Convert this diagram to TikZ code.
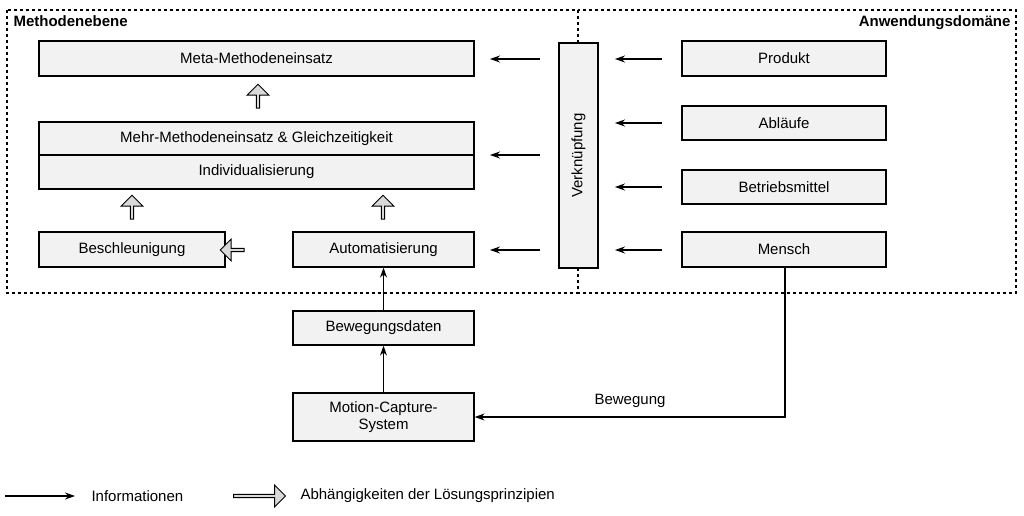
\documentclass[tikz,border=0pt]{standalone}
\usepackage{fontspec}
\setmainfont{Liberation Sans}
\usetikzlibrary{shapes.arrows,arrows.meta}
\begin{document}
\begin{tikzpicture}[x=1pt,y=-1pt,
 box/.style={draw,fill=gray!10,line width=1.2pt,font=\fontsize{15}{18}\selectfont,inner sep=0pt},
 info/.style={-{Stealth[length=10pt,width=7pt]},line width=1.3pt},
 dep/.style={single arrow,draw,fill=gray!30,line width=1pt,minimum height=24pt,minimum width=22pt,single arrow head extend=3pt,inner sep=0pt,single arrow tip angle=90}]
\useasboundingbox (0,0) rectangle (1024,516);
\draw[dashed,line width=1.2pt] (7,10) rectangle (578,293);
\draw[dashed,line width=1.2pt] (578,10) rectangle (1016,293);
\node[anchor=north west,font=\bfseries\fontsize{15}{18}\selectfont] (t1) at (10,12) {Methodenebene};
\node[anchor=north east,font=\bfseries\fontsize{15}{18}\selectfont] (t2) at (1014,12) {Anwendungsdomäne};
\node[box,minimum width=435pt,minimum height=35pt] (meta) at (256.5,58.5) {Meta-Methodeneinsatz};
\node[box,minimum width=435pt,minimum height=33pt] (mehr) at (256.5,138.5) {Mehr-Methodeneinsatz \& Gleichzeitigkeit};
\node[box,minimum width=435pt,minimum height=34pt] (ind) at (256.5,172) {Individualisierung};
\node[box,minimum width=186pt,minimum height=35pt] (besch) at (132,249.5) {Beschleunigung};
\node[box,minimum width=181pt,minimum height=35pt] (auto) at (383.5,249.5) {Automatisierung};
\node[box,minimum width=39pt,minimum height=225pt] (verk) at (578.5,155.5) {\rotatebox{90}{Verknüpfung}};
\node[box,minimum width=204pt,minimum height=35pt] (prod) at (784,58.5) {Produkt};
\node[box,minimum width=204pt,minimum height=34pt] (abl) at (784,123) {Abläufe};
\node[box,minimum width=204pt,minimum height=34pt] (betr) at (784,187) {Betriebsmittel};
\node[box,minimum width=204pt,minimum height=35pt] (mensch) at (784,249.5) {Mensch};
\node[box,minimum width=181pt,minimum height=34pt] (bew) at (383.5,328) {Bewegungsdaten};
\node[box,minimum width=181pt,minimum height=48pt,align=center,font=\fontsize{15}{17}\selectfont] (mocap) at (383.5,417) {Motion-Capture-\\System};
\coordinate (v1) at (540,59); \coordinate (v1e) at (490,59);
\coordinate (v2) at (540,155); \coordinate (v2e) at (490,155);
\coordinate (v3) at (540,250); \coordinate (v3e) at (490,250);
\draw[info] (v1) -- (v1e); \draw[info] (v2) -- (v2e); \draw[info] (v3) -- (v3e);
\foreach \n/\y in {p/59,a/123,b/187,m/250}{
 \coordinate (r\n) at (662,\y); \coordinate (r\n e) at (615,\y);
 \draw[info] (r\n) -- (r\n e);}
\node[dep,rotate=90] (d1) at (258,97) {};
\node[dep,rotate=90] (d2) at (132,208) {};
\node[dep,rotate=90] (d3) at (383,208) {};
\node[dep,rotate=180] (d4) at (233,250) {};
\draw[info] (bew) -- (auto);
\draw[info] (mocap) -- (bew);
\coordinate (c1) at (785,417);
\draw[info] (mensch.south -| c1) -- (c1) -- (mocap.east);
\node[font=\fontsize{15}{18}\selectfont] (lb) at (630,401) {Bewegung};
\coordinate (l1) at (5,496); \coordinate (l2) at (75,496);
\draw[info] (l1) -- (l2);
\node[anchor=west,font=\fontsize{15}{18}\selectfont] (li) at (88,496) {Informationen};
\node[dep,minimum height=52pt,anchor=tail] (ld) at (233,496) {};
\node[anchor=west,font=\fontsize{15}{18}\selectfont] (la) at (297,496) {Abhängigkeiten der Lösungsprinzipien};
\end{tikzpicture}
\end{document}
